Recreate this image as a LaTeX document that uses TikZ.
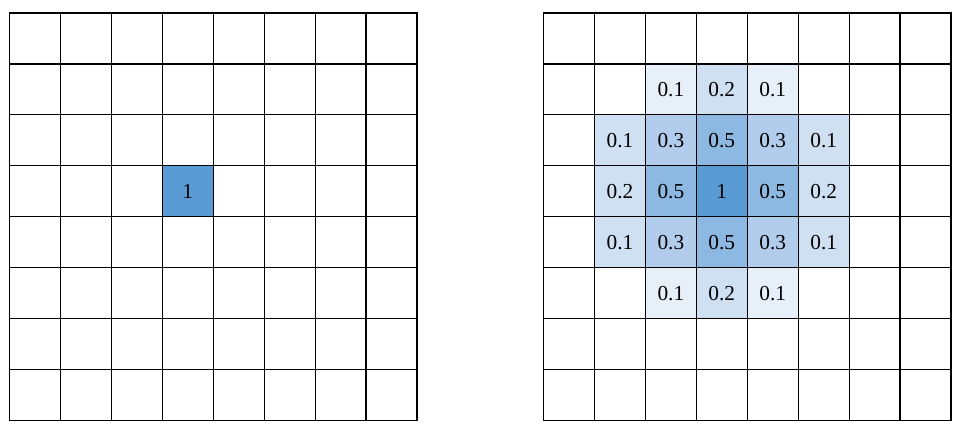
\documentclass[tikz,border=0pt]{standalone}
\usepackage{fontspec}
\setmainfont{Liberation Serif}
\definecolor{w10}{HTML}{5B9BD5}
\definecolor{w05}{HTML}{8DB8E2}
\definecolor{w03}{HTML}{B1CDEB}
\definecolor{w02}{HTML}{CFE0F2}
\definecolor{w01}{HTML}{E7EFF8}
\tikzset{
  wcell/.style={fill=#1, minimum size=38.2pt, inner sep=0pt, font=\fontsize{16}{19}\selectfont},
  gridline/.style={line width=0.9pt, line cap=rect}
}
\begin{document}
\begin{tikzpicture}[x=0.75pt,y=-0.75pt]
\useasboundingbox (0,0) rectangle (962,436);
\def\cs{50.94}

% left grid: the single hit
\node[wcell=w10] (L-3-3) at ({9.5+3.5*\cs},{13+3.5*\cs}) {1};

% right grid: spread weights
\foreach \r/\c/\v/\w in {
  1/2/0.1/w01, 1/3/0.2/w02, 1/4/0.1/w01,
  2/1/0.1/w02, 2/2/0.3/w03, 2/3/0.5/w05, 2/4/0.3/w03, 2/5/0.1/w02,
  3/1/0.2/w02, 3/2/0.5/w05, 3/3/1/w10,   3/4/0.5/w05, 3/5/0.2/w02,
  4/1/0.1/w02, 4/2/0.3/w03, 4/3/0.5/w05, 4/4/0.3/w03, 4/5/0.1/w02,
  5/2/0.1/w01, 5/3/0.2/w02, 5/4/0.1/w01}
  \node[wcell=\w] (R-\r-\c) at ({543.5+(\c+0.5)*\cs},{13+(\r+0.5)*\cs}) {\v};

% both 8x8 grids
\foreach \ox in {9.5,543.5} {
  \foreach \i in {0,...,8} {
    \draw[gridline] ({\ox+\i*\cs},13) -- ({\ox+\i*\cs},{13+8*\cs});
    \draw[gridline] (\ox,{13+\i*\cs}) -- ({\ox+8*\cs},{13+\i*\cs});
  }
}
\end{tikzpicture}
\end{document}
